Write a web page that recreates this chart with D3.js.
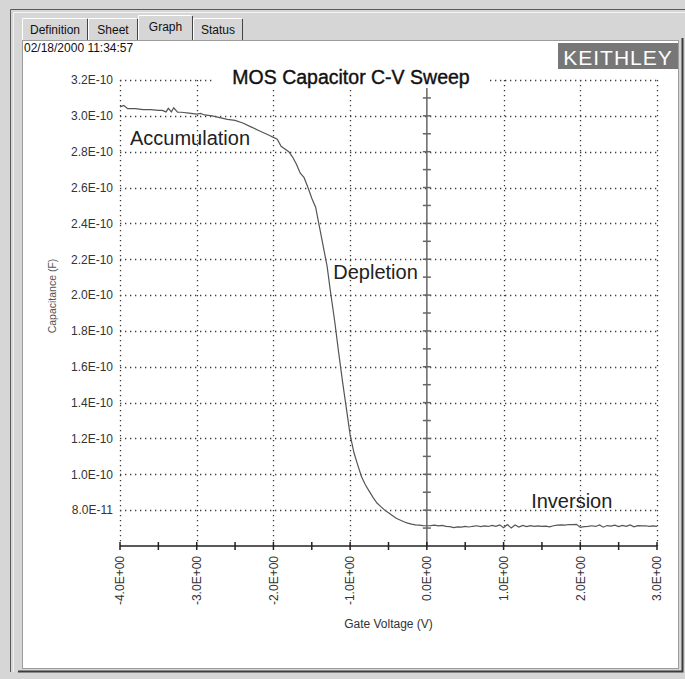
<!DOCTYPE html>
<html>
<head>
<meta charset="utf-8">
<script src="https://cdn.jsdelivr.net/npm/d3@7"></script>
<style>
  html, body { margin: 0; padding: 0; background: #d6d6d6; }
  svg { display: block; }
  text { font-family: "Liberation Sans", Arial, sans-serif; }
</style>
</head>
<body>
<script>
// sweep data
const gateVoltage = [
  -4.00, -3.95, -3.90, -3.80, -3.70, -3.60, -3.50, -3.45, -3.40, -3.37,
  -3.33, -3.30, -3.25, -3.20, -3.10, -3.00, -2.95, -2.90, -2.80, -2.70,
  -2.60, -2.50, -2.40, -2.30, -2.20, -2.10, -2.05, -2.00, -1.95, -1.90,
  -1.85, -1.80, -1.75, -1.70, -1.65, -1.60, -1.55, -1.50, -1.45, -1.40,
  -1.35, -1.30, -1.26, -1.20, -1.15, -1.10, -1.06, -1.00, -0.95, -0.90,
  -0.85, -0.80, -0.75, -0.70, -0.65, -0.60, -0.55, -0.50, -0.45, -0.40,
  -0.35, -0.30, -0.25, -0.20, -0.15, -0.10, -0.05, 0.00,
  0.05, 0.10, 0.15, 0.20, 0.25, 0.30, 0.35, 0.40, 0.45, 0.50,
  0.55, 0.60, 0.65, 0.70, 0.75, 0.80, 0.85, 0.90, 0.95, 1.00,
  1.05, 1.10, 1.15, 1.20, 1.25, 1.30, 1.35, 1.40, 1.45, 1.50,
  1.55, 1.60, 1.65, 1.70, 1.75, 1.80, 1.85, 1.90, 1.95, 2.00,
  2.05, 2.10, 2.15, 2.20, 2.25, 2.30, 2.35, 2.40, 2.45, 2.50,
  2.55, 2.60, 2.65, 2.70, 2.75, 2.80, 2.85, 2.90, 2.95, 3.00
];
const capacitance = [
  3.050e-10, 3.058e-10, 3.040e-10, 3.040e-10, 3.035e-10, 3.035e-10, 3.030e-10, 3.030e-10, 3.022e-10, 3.042e-10,
  3.022e-10, 3.045e-10, 3.020e-10, 3.020e-10, 3.015e-10, 3.010e-10, 3.014e-10, 3.005e-10, 3.000e-10, 2.990e-10,
  2.980e-10, 2.975e-10, 2.960e-10, 2.940e-10, 2.920e-10, 2.900e-10, 2.890e-10, 2.880e-10, 2.870e-10, 2.830e-10,
  2.815e-10, 2.800e-10, 2.770e-10, 2.730e-10, 2.680e-10, 2.655e-10, 2.600e-10, 2.540e-10, 2.490e-10, 2.380e-10,
  2.270e-10, 2.160e-10, 2.030e-10, 1.850e-10, 1.680e-10, 1.520e-10, 1.400e-10, 1.220e-10, 1.120e-10, 1.050e-10,
  0.985e-10, 0.940e-10, 0.905e-10, 0.870e-10, 0.840e-10, 0.820e-10, 0.800e-10, 0.785e-10, 0.770e-10, 0.755e-10,
  0.745e-10, 0.735e-10, 0.728e-10, 0.722e-10, 0.718e-10, 0.716e-10, 0.714e-10, 0.713e-10,
  7.14e-11, 7.16e-11, 7.12e-11, 7.15e-11, 7.10e-11, 7.08e-11, 7.03e-11, 7.07e-11, 7.05e-11, 7.09e-11,
  7.06e-11, 7.10e-11, 7.13e-11, 7.08e-11, 7.12e-11, 7.09e-11, 7.15e-11, 7.10e-11, 7.18e-11, 7.02e-11,
  7.20e-11, 7.00e-11, 7.17e-11, 7.06e-11, 7.15e-11, 7.08e-11, 7.14e-11, 7.10e-11, 7.12e-11, 7.09e-11,
  7.11e-11, 7.07e-11, 7.13e-11, 7.16e-11, 7.18e-11, 7.17e-11, 7.20e-11, 7.19e-11, 7.21e-11, 7.04e-11,
  7.08e-11, 7.10e-11, 7.13e-11, 7.09e-11, 7.17e-11, 7.05e-11, 7.14e-11, 7.11e-11, 7.16e-11, 7.08e-11,
  7.15e-11, 7.10e-11, 7.18e-11, 7.07e-11, 7.14e-11, 7.12e-11, 7.13e-11, 7.10e-11, 7.12e-11, 7.09e-11
];

// ticks and labels
const xTicks = [-4, -3, -2, -1, 0, 1, 2, 3];
const xMinorTicks = [-4, -3.5, -3, -2.5, -2, -1.5, -1, -0.5, 0, 0.5, 1, 1.5, 2, 2.5, 3];
const yTicks = [8e-11, 1e-10, 1.2e-10, 1.4e-10, 1.6e-10, 1.8e-10, 2e-10, 2.2e-10, 2.4e-10, 2.6e-10, 2.8e-10, 3e-10, 3.2e-10];
const yMinorTicks = [7e-11, 8e-11, 9e-11, 1e-10, 1.1e-10, 1.2e-10, 1.3e-10, 1.4e-10, 1.5e-10, 1.6e-10, 1.7e-10,
  1.8e-10, 1.9e-10, 2e-10, 2.1e-10, 2.2e-10, 2.3e-10, 2.4e-10, 2.5e-10, 2.6e-10, 2.7e-10, 2.8e-10, 2.9e-10, 3e-10, 3.1e-10];
const tabs = ['Definition', 'Sheet', 'Graph', 'Status'];
const annotations = [
  { label: 'Accumulation', v: -3.87, c: 2.84e-10 },
  { label: 'Depletion', v: -1.22, c: 2.09e-10 },
  { label: 'Inversion', v: 1.36, c: 8.1e-11 },
];

const w = 685;
const h = 679;

// sci format like 3.2E-10 / -4.0E+00
const sci = (v) => {
  const [m, e] = v.toExponential(1).split('e');
  const n = parseInt(e, 10);
  return `${m}E${n < 0 ? '-' : '+'}${String(Math.abs(n)).padStart(2, '0')}`;
};

const svg = d3.select('body')
  .append('svg')
  .attr('width', w)
  .attr('height', h);

// window chrome
svg.append('rect').attr('width', w).attr('height', h).attr('fill', '#d6d6d6');
svg.append('path').attr('d', 'M10.5,672 V9.5 H685').attr('fill', 'none').attr('stroke', '#5a5a5a');
svg.append('path').attr('d', 'M13.5,672 V12.5 H685').attr('fill', 'none').attr('stroke', '#f2f2f2');
svg.append('rect')
  .attr('x', 22.5).attr('y', 40.5).attr('width', 656).attr('height', 628)
  .attr('fill', '#fff').attr('stroke', '#9c9c9c');
svg.append('path').attr('d', 'M18,671.5 H682.5 V38').attr('fill', 'none').attr('stroke', '#3c3c3c').attr('stroke-width', 2);

// tabs
const tabEdges = [22, 88, 138, 193, 243];
const tab = svg.append('g').selectAll('g')
  .data(tabs)
  .enter()
  .append('g');
tab.append('path')
  .attr('d', (d, i) => {
    const top = d === 'Graph' ? 15.5 : 18.5;
    return `M${tabEdges[i] + 0.5},40 V${top} H${tabEdges[i + 1] - 1.5}`;
  })
  .attr('fill', 'none').attr('stroke', '#fff');
tab.append('path')
  .attr('d', (d, i) => {
    const top = d === 'Graph' ? 16 : 19;
    return `M${tabEdges[i + 1] - 0.5},${top} V40`;
  })
  .attr('fill', 'none').attr('stroke', '#444');
tab.append('text')
  .attr('x', (d, i) => (tabEdges[i] + tabEdges[i + 1]) / 2)
  .attr('y', d => (d === 'Graph' ? 31 : 34))
  .attr('text-anchor', 'middle')
  .attr('font-size', 12)
  .attr('fill', '#111')
  .text(d => d);

// timestamp and logo
svg.append('text').attr('x', 24).attr('y', 52).attr('font-size', 12).attr('fill', '#111').text('02/18/2000 11:34:57');
svg.append('rect').attr('x', 558).attr('y', 43).attr('width', 120).attr('height', 26).attr('fill', '#777');
svg.append('text')
  .attr('x', 618).attr('y', 64.5)
  .attr('text-anchor', 'middle')
  .attr('font-family', 'Lato, "Open Sans", sans-serif')
  .attr('font-size', 21)
  .attr('letter-spacing', 1)
  .attr('fill', '#fff')
  .text('KEITHLEY');

// scales
const x = d3.scaleLinear().domain([-4, 3]).range([120, 657]);
const y = d3.scaleLinear().domain([6e-11, 3.2e-10]).range([546, 80]);

// dotted grid
const grid = svg.append('g')
  .attr('stroke', '#3a3a3a')
  .attr('stroke-width', 1.3)
  .attr('stroke-dasharray', '1.3,3.7');
grid.selectAll('.hgrid')
  .data(yTicks)
  .enter()
  .append('line')
  .attr('x1', x(-4)).attr('x2', x(3))
  .attr('y1', d => Math.round(y(d)) + 0.5).attr('y2', d => Math.round(y(d)) + 0.5);
grid.selectAll('.vgrid')
  .data(xTicks.filter(d => d !== 0))
  .enter()
  .append('line')
  .attr('x1', d => Math.round(x(d)) + 0.5).attr('x2', d => Math.round(x(d)) + 0.5)
  .attr('y1', y(3.2e-10)).attr('y2', y(6e-11));

// y axis crossing at 0 V
const yAxis = svg.append('g').attr('stroke', '#666').attr('stroke-width', 1.5);
yAxis.append('line')
  .attr('x1', x(0)).attr('x2', x(0))
  .attr('y1', 88).attr('y2', y(6e-11));
yAxis.selectAll('.tick')
  .data(yMinorTicks)
  .enter()
  .append('line')
  .attr('x1', x(0) - 4).attr('x2', x(0) + 4)
  .attr('y1', d => y(d)).attr('y2', d => y(d));

// x axis along bottom
const xAxis = svg.append('g').attr('stroke', '#222').attr('stroke-width', 1.5);
xAxis.append('line')
  .attr('x1', x(-4)).attr('x2', x(3))
  .attr('y1', y(6e-11)).attr('y2', y(6e-11));
xAxis.selectAll('.tick')
  .data(xMinorTicks)
  .enter()
  .append('line')
  .attr('x1', d => x(d)).attr('x2', d => x(d))
  .attr('y1', y(6e-11) - 4).attr('y2', y(6e-11) + 4);

// tick labels
svg.append('g').selectAll('text')
  .data(yTicks)
  .enter()
  .append('text')
  .attr('x', 113)
  .attr('y', d => y(d))
  .attr('dy', '0.36em')
  .attr('text-anchor', 'end')
  .attr('font-size', 12)
  .attr('fill', '#333')
  .text(sci);
svg.append('g').selectAll('text')
  .data(xTicks)
  .enter()
  .append('text')
  .attr('transform', d => `translate(${x(d)},556) rotate(-90)`)
  .attr('dy', '0.36em')
  .attr('text-anchor', 'end')
  .attr('font-size', 12)
  .attr('fill', '#333')
  .text(sci);

// axis titles
svg.append('text')
  .attr('transform', 'translate(56,296) rotate(-90)')
  .attr('text-anchor', 'middle')
  .attr('font-size', 10.5)
  .attr('fill', '#555')
  .text('Capacitance (F)');
svg.append('text')
  .attr('x', (x(-4) + x(3)) / 2).attr('y', 628)
  .attr('text-anchor', 'middle')
  .attr('font-size', 12)
  .attr('fill', '#333')
  .text('Gate Voltage (V)');

// title on white backing
svg.append('rect').attr('x', 214).attr('y', 66).attr('width', 274).attr('height', 22).attr('fill', '#fff');
svg.append('text')
  .attr('x', 351).attr('y', 84)
  .attr('text-anchor', 'middle')
  .attr('font-size', 19.5)
  .attr('fill', '#111')
  .attr('stroke', '#111')
  .attr('stroke-width', 0.4)
  .text('MOS Capacitor C-V Sweep');

// the sweep
const line = d3.line()
  .x(d => x(d[0]))
  .y(d => y(d[1]));
svg.append('path')
  .datum(d3.zip(gateVoltage, capacitance))
  .attr('d', line)
  .attr('fill', 'none')
  .attr('stroke', '#555')
  .attr('stroke-width', 1.2);

// region labels
svg.append('g').selectAll('text')
  .data(annotations)
  .enter()
  .append('text')
  .attr('x', d => x(d.v))
  .attr('y', d => y(d.c))
  .attr('font-family', 'Lato, "Open Sans", sans-serif')
  .attr('font-size', 20)
  .attr('fill', '#222')
  .text(d => d.label);
</script>
</body>
</html>
